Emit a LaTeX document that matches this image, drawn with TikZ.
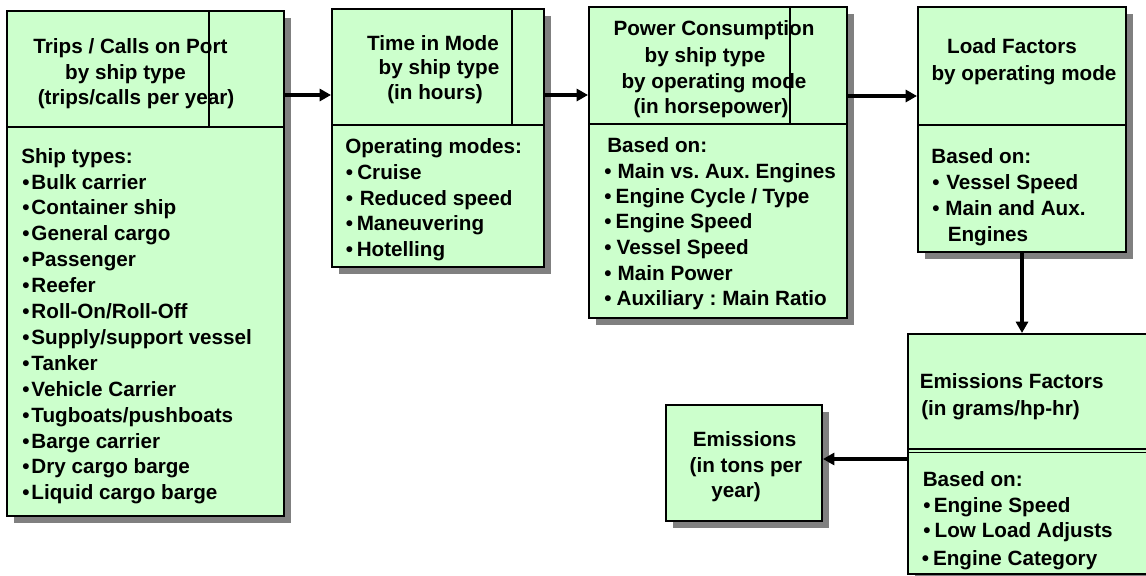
\documentclass[tikz,border=0pt]{standalone}
\usepackage{fontspec}
\setmainfont{Liberation Sans}
\usetikzlibrary{fit,shadows,arrows.meta}
\definecolor{boxgreen}{HTML}{CCFFCC}
\definecolor{shgray}{HTML}{808080}
\frenchspacing
\tikzset{
  bx/.style={draw=black, line width=1.5pt, fill=boxgreen, inner sep=0pt,
    drop shadow={shadow xshift=5.25pt, shadow yshift=-5.25pt, fill=shgray, opacity=1}},
  hd/.style={draw=black, line width=1.5pt, inner sep=0pt},
  vline/.style={draw=black, line width=1pt},
  dline/.style={draw=black, line width=0.9pt},
  txt/.style={font=\fontsize{15.5}{18}\selectfont\bfseries\frenchspacing, inner sep=0pt, text=black},
  lt/.style={txt, anchor=base west},
  ct/.style={txt, anchor=base},
  arr/.style={draw=black, line width=2.4pt, -{Triangle[length=8.5pt,width=9pt]}},
}
\newcommand{\bl}[1]{\makebox[#1][l]{•}}
\begin{document}
\begin{tikzpicture}[x=0.75pt,y=-0.75pt]
\useasboundingbox (0,0) rectangle (1146,575);
\clip (0,0) rectangle (1146,575);
\fill[white] (0,0) rectangle (1146,575);

% ---- Box 1: Trips / Calls on Port
\node[bx, fit={(7,11) (284,516)}] (b1) {};
\node[hd, fit={(7,11) (284,127)}] (h1) {};
\draw[vline] (209,11) -- (209,127);
\node[ct] (t1a) at (130.5,53) {Trips / Calls on Port};
\node[ct] (t1b) at (125.5,79) {by ship type};
\node[ct] (t1c) at (136,104) {(trips/calls per year)};
\node[lt] (t1d) at (21,163) {Ship types:};
\foreach \s [count=\i] in {Bulk carrier, Container ship, General cargo, Passenger, Reefer, Roll-On/Roll-Off, Supply/support vessel, Tanker, Vehicle Carrier, Tugboats/pushboats, Barge carrier, Dry cargo barge, Liquid cargo barge}
  \node[lt] (s\i) at (22,{189+25.9*(\i-1)}) {\bl{6.9pt}\s};

% ---- Box 2: Time in Mode
\node[bx, fit={(332,9) (544,267)}] (b2) {};
\node[hd, fit={(332,9) (544,125)}] (h2) {};
\draw[vline] (512,9) -- (512,125);
\node[ct] (t2a) at (433,50) {Time in Mode};
\node[ct] (t2b) at (439,74) {by ship type};
\node[ct] (t2c) at (435,99) {(in hours)};
\node[lt] (t2d) at (345,153) {Operating modes:};
\node[lt] (m1) at (345.7,179) {\bl{8.5pt}Cruise};
\node[lt] (m2) at (345.7,205) {\bl{10.4pt}Reduced speed};
\node[lt] (m3) at (345.7,230) {\bl{8.1pt}Maneuvering};
\node[lt] (m4) at (345.7,256) {\bl{8.1pt}Hotelling};

% ---- Box 3: Power Consumption
\node[bx, fit={(589,7) (847,318)}] (b3) {};
\node[hd, fit={(589,7) (847,124)}] (h3) {};
\draw[vline] (790,7) -- (790,124);
\node[ct] (t3a) at (714,35) {Power Consumption};
\node[ct] (t3b) at (705,62) {by ship type};
\node[ct] (t3c) at (714,88) {by operating mode};
\node[ct] (t3d) at (711,113) {(in horsepower)};
\node[lt] (t3e) at (607,152) {Based on:};
\node[lt] (p1) at (604,178) {\bl{10.1pt}Main vs. Aux. Engines};
\node[lt] (p2) at (604,203) {\bl{8.6pt}Engine Cycle / Type};
\node[lt] (p3) at (604,228) {\bl{8.6pt}Engine Speed};
\node[lt] (p4) at (604,254) {\bl{9.3pt}Vessel Speed};
\node[lt] (p5) at (604,280) {\bl{10.1pt}Main Power};
\node[lt] (p6) at (604,305) {\bl{9.3pt}Auxiliary : Main Ratio};

% ---- Box 4: Load Factors
\node[bx, fit={(918,7) (1126,252)}] (b4) {};
\node[hd, fit={(918,7) (1126,125)}] (h4) {};
\node[ct] (t4a) at (1012,53) {Load Factors};
\node[ct] (t4b) at (1024,80) {by operating mode};
\node[lt] (t4c) at (931.2,163) {Based on:};
\node[lt] (l1) at (932,189) {\bl{10.5pt}Vessel Speed};
\node[lt] (l2) at (932,215) {\bl{9.9pt}Main and Aux.};
\node[lt] (l3) at (947.5,241) {Engines};

% ---- Box 5: Emissions Factors
\node[bx, fit={(908,334) (1160,574)}] (b5) {};
\draw[dline] (908,449) -- (1160,449);
\draw[dline] (908,452.5) -- (1160,452.5);
\node[lt] (t5a) at (919.5,388) {Emissions Factors};
\node[lt] (t5b) at (921,415) {(in grams/hp-hr)};
\node[lt] (t5c) at (922.5,486) {Based on:};
\node[lt] (e1) at (923,512) {\bl{7.9pt}Engine Speed};
\node[lt] (e2) at (923,537) {\bl{8.6pt}Low Load Adjusts};
\node[lt] (e3) at (921.7,565) {\bl{8.3pt}Engine Category};

% ---- Emissions
\node[bx, fit={(666,405) (822,521)}] (em) {};
\node[ct] (t6a) at (744.6,446) {Emissions};
\node[ct] (t6b) at (746,472) {(in tons per};
\node[ct] (t6c) at (736,497) {year)};

% ---- connectors
\coordinate (y12) at (0,95);
\coordinate (y34) at (0,96);
\coordinate (y56) at (0,459);
\draw[arr] (b1.east |- y12) -- (b2.west |- y12);
\draw[arr] (b2.east |- y12) -- (b3.west |- y12);
\draw[arr] (b3.east |- y34) -- (b4.west |- y34);
\draw[arr] (b4.south) -- (b4.south |- b5.north);
\draw[arr] (b5.west |- y56) -- (em.east |- y56);
\end{tikzpicture}
\end{document}
